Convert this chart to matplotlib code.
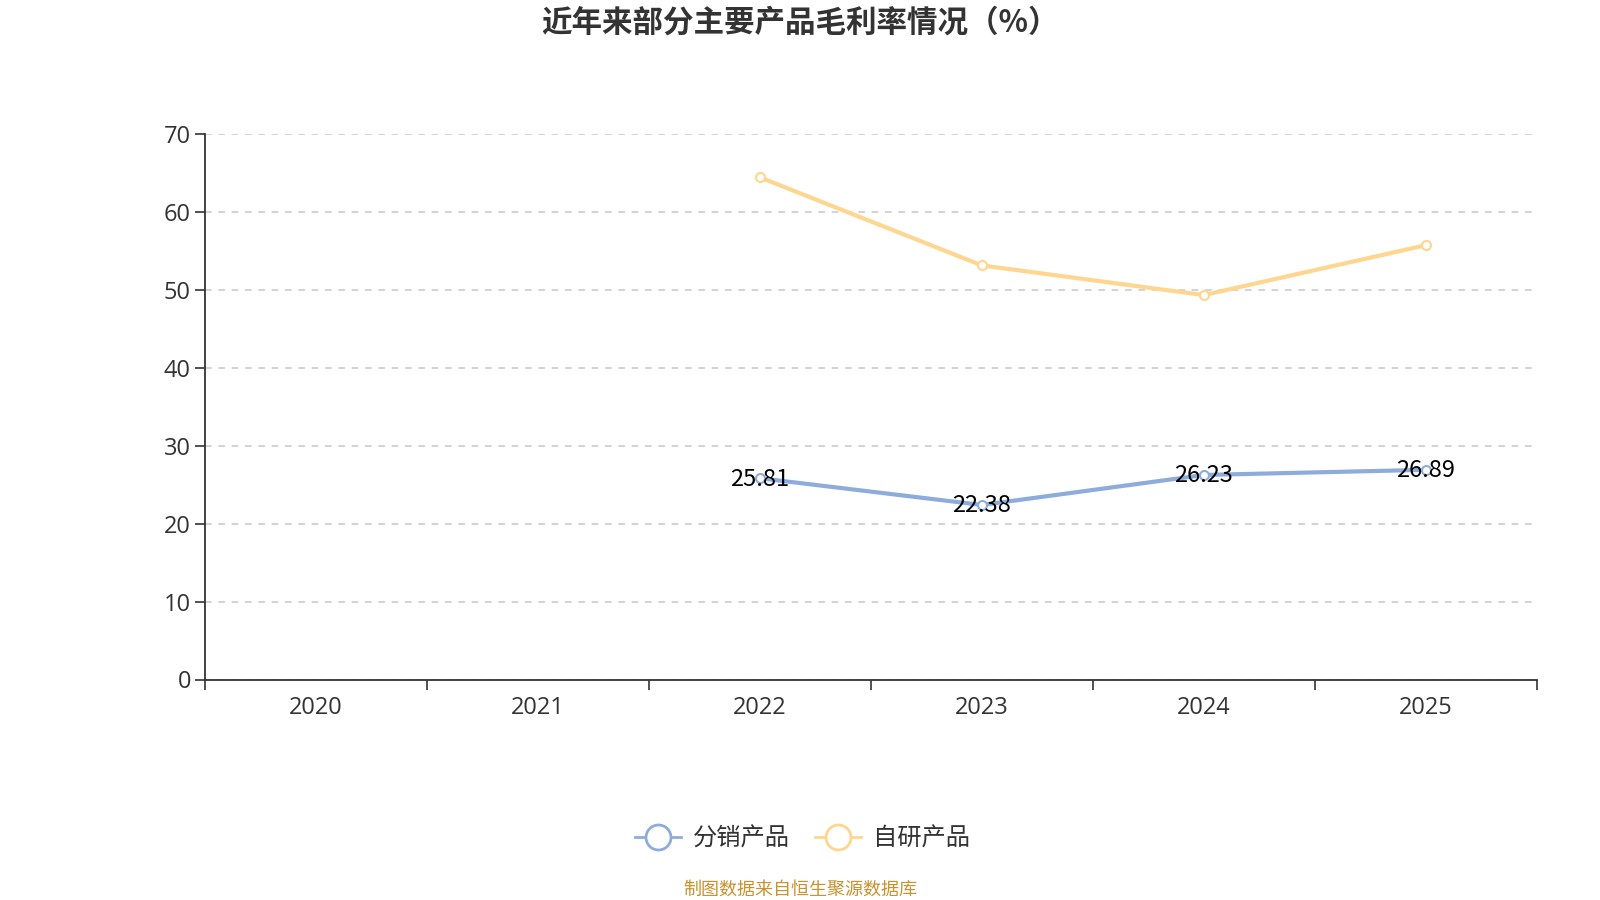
import matplotlib
matplotlib.use("Agg")
import matplotlib.pyplot as plt
from matplotlib.lines import Line2D
import numpy as np

plt.rcParams['font.family'] = ['Noto Sans CJK SC', 'DejaVu Sans']

years = ["2020", "2021", "2022", "2023", "2024", "2025"]
fenxiao = [np.nan, np.nan, 25.81, 22.38, 26.23, 26.89]
ziyan = [np.nan, np.nan, 64.4, 53.1, 49.3, 55.7]
series_names = ["分销产品", "自研产品"]
colors = ["#8eacdb", "#fed68f"]

fig = plt.figure(figsize=(16, 9), dpi=100)
ax = fig.add_axes([0.128, 0.245, 0.8326, 0.6065])

x = np.arange(len(years))
for vals, c, name in zip([fenxiao, ziyan], colors, series_names):
    ax.plot(x, vals, color=c, lw=3, marker="o", ms=6.5, mfc="white",
            mec=c, mew=1.5, label=name, zorder=3)

# labels only on blue series
for xi, v in zip(x, fenxiao):
    if not np.isnan(v):
        ax.text(xi, v - 0.1, f"{v:.2f}", ha="center", va="center",
                fontsize=17, color="black", zorder=4)

ax.set_xlim(-0.5, len(years) - 0.5)
ax.set_ylim(0, 70)
ax.set_yticks(range(0, 71, 10))
ax.set_xticks(np.arange(-0.5, len(years), 1.0))
ax.set_xticklabels([])
ax.set_xticks(x, minor=True)
ax.set_xticklabels(years, minor=True, family="Open Sans")
for lab in ax.get_yticklabels():
    lab.set_family("Open Sans")
ax.tick_params(axis="x", which="minor", length=0, pad=12, labelsize=17, labelcolor="#333333")
ax.tick_params(axis="x", which="major", length=7, width=1.2, color="#333333")
ax.tick_params(axis="y", length=7, width=1.2, color="#333333", labelsize=17,
               labelcolor="#333333", pad=3)

ax.grid(axis="y", linestyle=(0, (4, 4)), color="#cccccc", lw=1.2)
ax.set_axisbelow(True)
for s in ["top", "right"]:
    ax.spines[s].set_visible(False)
for s in ["left", "bottom"]:
    ax.spines[s].set_color("#333333")
    ax.spines[s].set_linewidth(1.3)

fig.text(0.5, 0.975, "近年来部分主要产品毛利率情况（%）", ha="center", va="center",
         fontsize=22, fontweight="bold", color="#333333")

handles = [Line2D([0], [0], color=c, lw=2, marker="o", ms=18, mfc="white", mec=c, mew=2)
           for c in colors]
fig.legend(handles, series_names, loc="center", bbox_to_anchor=(0.5015, 0.068), ncol=2,
           frameon=False, fontsize=17.5, handlelength=1.9, columnspacing=1.0,
           handletextpad=0.5, labelcolor="#333333")

fig.text(0.5, 0.011, "制图数据来自恒生聚源数据库", ha="center", va="center",
         fontsize=13, color="#c8922e")

fig.savefig("out.png", dpi=100)
